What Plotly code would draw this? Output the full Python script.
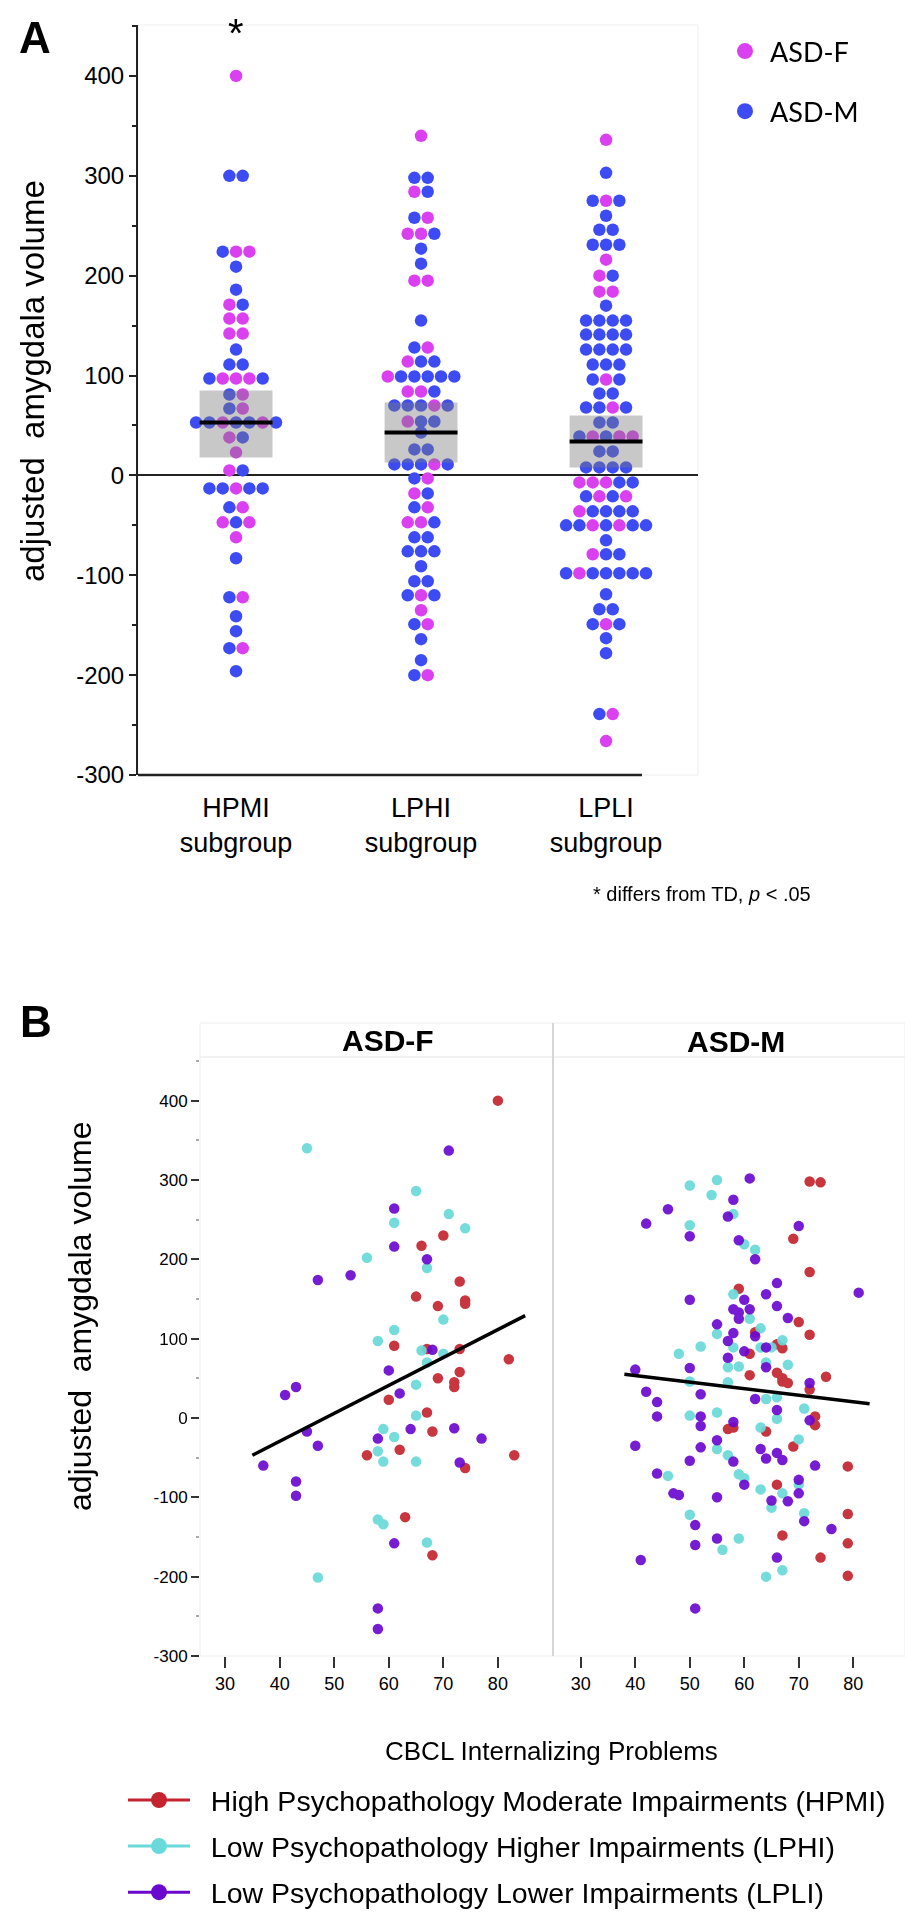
import plotly.graph_objects as go

# ---------------- Panel A data (beeswarm rows: value + sex of each dot in row) -------------
groups = ["HPMI<br>subgroup", "LPHI<br>subgroup", "LPLI<br>subgroup"]

hpmi_rows = [400, 300, 224, 209, 186, 171, 157, 142, 126, 111, 97, 81, 67, 53, 38, 23, 5,
             -13, -32, -47, -62, -83, -122, -141, -156, -173, -196]
hpmi_sex = ["F", "MM", "MFF", "M", "M", "FM", "FF", "FF", "M", "MM", "MFFFM", "MF", "MF",
            "MMFMMFM", "FM", "F", "FM", "MMFMM", "MF", "FMF", "F", "M", "MF", "M", "M", "MF", "M"]

lphi_rows = [340, 298, 284, 258, 242, 227, 212, 195, 155, 128, 114, 99, 84, 70, 54, 43, 26, 11,
             -3, -18, -32, -47, -62, -76, -91, -106, -120, -135, -149, -164, -185, -200]
lphi_sex = ["F", "MM", "FM", "MF", "FFM", "M", "M", "FF", "M", "MF", "FMM", "FMMMMM", "FFM",
            "MMMFM", "FMM", "M", "MM", "MMMFM", "MF", "FM", "MF", "FFM", "MM", "MMM", "M", "MM",
            "MFM", "F", "MF", "M", "M", "MF"]

lpli_rows = [336, 303, 275, 260, 246, 231, 216, 200, 184, 170, 155, 141, 126, 111, 96, 82, 68, 53,
             39, 24, 8, -7, -21, -36, -50, -65, -79, -98, -119, -134, -149, -163, -178, -239, -266]
lpli_sex = ["F", "M", "MFM", "M", "MM", "MMM", "F", "FM", "FF", "M", "MMMM", "MMMM", "MMMM", "MMM",
            "MFM", "MM", "MMFM", "MM", "MFMFF", "MM", "MMMM", "FFFMM", "MFMF", "FMMMM", "MMFMFMM",
            "M", "FMM", "MFMMMMM", "M", "MM", "MFM", "M", "M", "MF", "F"]

box_q1 = [18, 13, 8]
box_q3 = [85, 73, 60]
box_median = [53, 43, 34]

# ---------------- Panel B data ----------------
F_HPMI_x = [80, 70, 66, 73, 65, 74, 74, 69, 61, 67, 73, 82, 73, 69, 72, 72, 60, 67, 68, 56, 62, 74, 83, 63, 68]
F_HPMI_y = [400, 230, 217, 172, 153, 148, 144, 141, 91, 87, 87, 74, 58, 50, 45, 39, 23, 7, -17, -47, -40, -63, -47, -125, -173]
F_LPHI_x = [45, 65, 71, 61, 74, 56, 67, 70, 61, 58, 66, 70, 67, 65, 65, 59, 61, 58, 59, 65, 58, 59, 67, 47]
F_LPHI_y = [340, 286, 257, 246, 239, 202, 189, 124, 111, 97, 85, 81, 70, 42, 3, -14, -24, -42, -55, -55, -128, -134, -157, -201]
F_LPLI_x = [71, 61, 61, 67, 47, 53, 68, 60, 43, 41, 62, 45, 64, 72, 47, 58, 77, 73, 37, 43, 43, 61, 58, 58]
F_LPLI_y = [337, 264, 216, 200, 174, 180, 86, 60, 39, 29, 31, -17, -14, -13, -35, -26, -26, -56, -60, -80, -98, -158, -240, -266]

M_HPMI_x = [72, 74, 69, 72, 59, 70, 62, 72, 61, 66, 67, 61, 66, 67, 67, 68, 75, 72, 57, 58, 64, 73, 73, 69, 79, 66, 79, 67, 79, 74, 79]
M_HPMI_y = [298, 297, 226, 184, 163, 121, 108, 105, 81, 93, 88, 54, 57, 50, 46, 44, 52, 36, -14, -12, -17, 2, -9, -36, -61, -84, -121, -148, -158, -176, -199]
M_LPHI_x = [50, 55, 54, 58, 50, 60, 62, 58, 61, 63, 55, 67, 52, 58, 63, 65, 48, 57, 59, 64, 68, 50, 57, 64, 66, 71, 66, 50, 55, 63,
            70, 55, 57, 46, 59, 60, 63, 70, 67, 65, 50, 71, 59, 56, 64, 67]
M_LPHI_y = [293, 300, 281, 257, 243, 219, 212, 156, 125, 113, 106, 98, 90, 89, 89, 89, 81, 64, 65, 70, 67, 46, 45, 24, 26, 12, -1, 3, 7, -12,
            -27, -39, -47, -73, -71, -76, -90, -84, -95, -113, -122, -120, -152, -166, -200, -192]
M_LPLI_x = [61, 58, 46, 57, 42, 50, 70, 59, 62, 66, 64, 81, 50, 60, 61, 58, 59, 66, 59, 68, 55, 58, 62, 57, 60, 64, 57, 64, 50, 40,
            72, 42, 52, 44, 62, 66, 44, 52, 52, 58, 72, 40, 52, 55, 63, 50, 58, 64, 66, 67, 73, 44, 60, 70, 47, 48, 55, 65, 68, 70,
            51, 71, 76, 55, 51, 41, 66, 51]
M_LPLI_y = [302, 275, 263, 254, 245, 229, 242, 224, 200, 170, 156, 158, 149, 149, 137, 137, 133, 141, 125, 126, 118, 107, 103, 97, 84, 89, 76, 64, 63, 61,
            44, 33, 30, 20, 24, 10, 2, 2, -10, -5, -3, -35, -37, -28, -39, -54, -55, -51, -44, -53, -60, -70, -84, -78, -95, -97, -100, -104, -105, -95,
            -135, -130, -140, -152, -160, -179, -176, -240]

fit_F_x = [35, 85]
fit_F_y = [-47, 129]
fit_M_x = [38, 83]
fit_M_y = [55, 18]

legend_B = ["High Psychopathology Moderate Impairments (HPMI)",
            "Low Psychopathology Higher Impairments (LPHI)",
            "Low Psychopathology Lower Impairments (LPLI)"]

y_ticks = [-300, -200, -100, 0, 100, 200, 300, 400]
y_tick_text = ["-300", "-200", "-100", "0", "100", "200", "300", "400"]
x_ticks_B = [30, 40, 50, 60, 70, 80]

# ---------------- styling ----------------
W, H = 913, 1920
FONT = "Liberation Sans, Arial, sans-serif"
PINK = "#DA40F0"
BLUE = "#3C4CF2"
RED = "#C3242F"
CYAN = "#6AD9D9"
PURPLE = "#6A08CE"


def px(x):
    return x / W


def py(y):
    return 1 - y / H


def swarm(rows, sexes, center, step):
    xs, ys, ss = [], [], []
    for v, s in zip(rows, sexes):
        n = len(s)
        for k, c in enumerate(s):
            xs.append(center + (k - (n - 1) / 2) * step)
            ys.append(v)
            ss.append(c)
    return xs, ys, ss


fig = go.Figure()

STEP = 0.072
allx = {"F": [], "M": []}
ally = {"F": [], "M": []}
for gi, (rows, sx) in enumerate([(hpmi_rows, hpmi_sex), (lphi_rows, lphi_sex), (lpli_rows, lpli_sex)]):
    xs, ys, ss = swarm(rows, sx, gi, STEP)
    for x, y, s in zip(xs, ys, ss):
        allx[s].append(x)
        ally[s].append(y)

# legend-only entries for panel A
for name, col in [("ASD-F", PINK), ("ASD-M", BLUE)]:
    fig.add_trace(go.Scatter(x=[None], y=[None], mode="markers", name=name, legend="legend",
                             legendgroup=name, marker=dict(color=col, size=16), xaxis="x", yaxis="y"))

for s, col in [("F", PINK), ("M", BLUE)]:
    fig.add_trace(go.Scatter(x=allx[s], y=ally[s], mode="markers", showlegend=False,
                             marker=dict(color=col, size=12.5, line=dict(width=0)),
                             xaxis="x", yaxis="y", hoverinfo="skip"))

# panel B
for (fx, fy, mx, my, col) in [(F_HPMI_x, F_HPMI_y, M_HPMI_x, M_HPMI_y, RED),
                              (F_LPHI_x, F_LPHI_y, M_LPHI_x, M_LPHI_y, CYAN),
                              (F_LPLI_x, F_LPLI_y, M_LPLI_x, M_LPLI_y, PURPLE)]:
    fig.add_trace(go.Scatter(x=fx, y=fy, mode="markers", showlegend=False, opacity=0.92,
                             marker=dict(color=col, size=10.5), xaxis="x2", yaxis="y2"))
    fig.add_trace(go.Scatter(x=mx, y=my, mode="markers", showlegend=False, opacity=0.92,
                             marker=dict(color=col, size=10.5), xaxis="x3", yaxis="y3"))

fig.add_trace(go.Scatter(x=fit_F_x, y=fit_F_y, mode="lines", showlegend=False,
                         line=dict(color="black", width=3.5), xaxis="x2", yaxis="y2"))
fig.add_trace(go.Scatter(x=fit_M_x, y=fit_M_y, mode="lines", showlegend=False,
                         line=dict(color="black", width=3.5), xaxis="x3", yaxis="y3"))

for name, col in zip(legend_B, [RED, CYAN, PURPLE]):
    fig.add_trace(go.Scatter(x=[None], y=[None], mode="lines+markers", name="\u00a0\u00a0" + name,
                             legend="legend2", legendgroup=name, marker=dict(color=col, size=16),
                             line=dict(color=col, width=3), xaxis="x2", yaxis="y2"))

shapes = []
for i in range(3):
    shapes.append(dict(type="rect", xref="x", yref="y", x0=i - 0.197, x1=i + 0.197,
                       y0=box_q1[i], y1=box_q3[i], fillcolor="rgba(125,125,125,0.42)",
                       line=dict(width=0), layer="above"))
    shapes.append(dict(type="line", xref="x", yref="y", x0=i - 0.197, x1=i + 0.197,
                       y0=box_median[i], y1=box_median[i], line=dict(color="black", width=4),
                       layer="above"))
# panel A frame + bottom axis
shapes.append(dict(type="rect", xref="x domain", yref="y domain", x0=0, x1=1, y0=0, y1=1,
                   line=dict(color="#eeeeee", width=1), layer="below"))
shapes.append(dict(type="line", xref="x domain", yref="y domain", x0=0, x1=0.9, y0=0, y1=0,
                   line=dict(color="#222222", width=2.5)))
# panel B frames
shapes.append(dict(type="rect", xref="paper", yref="paper", x0=px(192), x1=px(897), y0=py(1049), y1=py(1015),
                   line=dict(color="#eeeeee", width=1)))
for xr, yr in [("x2 domain", "y2 domain"), ("x3 domain", "y3 domain")]:
    shapes.append(dict(type="rect", xref=xr, yref=yr, x0=0, x1=1, y0=0, y1=1,
                       line=dict(color="#eeeeee", width=1), layer="below"))
shapes.append(dict(type="line", xref="paper", yref="paper", x0=px(545), x1=px(545), y0=py(1648), y1=py(1015),
                   line=dict(color="#d6d6d6", width=2)))


def note(text, x, y, size, xref="paper", angle=0, xanchor="center", yanchor="middle"):
    return dict(text=text, x=x, y=y, xref=xref, yref="paper", showarrow=False, textangle=angle,
                xanchor=xanchor, yanchor=yanchor, font=dict(size=size, family=FONT, color="black"))


ann = [
    note("<b>A</b>", px(27), py(29), 44),
    note("<b>B</b>", px(28), py(1014), 44),
    note("*", 0, py(1), 40, xref="x", yanchor="top"),
    note("* differs from TD, <i>p</i> &lt; .05", px(805), py(886), 20, xanchor="right"),
    note("adjusted\u00a0 amygdala volume", px(24), py(373), 33, angle=-90),
    note("adjusted\u00a0 amygdala volume", px(72), py(1308), 32, angle=-90),
    note("<b>ASD-F</b>", px(380), py(1032), 30),
    note("<b>ASD-M</b>", px(728), py(1033), 30),
    note("CBCL Internalizing Problems", px(543), py(1743), 26),
]

fig.update_layout(
    width=W, height=H, margin=dict(l=0, r=0, t=0, b=0, autoexpand=False),
    paper_bgcolor="white", plot_bgcolor="white",
    font=dict(family=FONT, color="black"),
    shapes=shapes, annotations=ann,
    xaxis=dict(domain=[px(130), px(690)], range=[-0.53, 2.497], tickvals=[0, 1, 2], ticktext=groups,
               showline=False, ticks="", showgrid=False, zeroline=False, anchor="y",
               ticklabelstandoff=14, tickfont=dict(size=27, family=FONT)),
    yaxis=dict(domain=[py(767), py(17)], range=[-300, 451], tickvals=y_ticks, ticktext=y_tick_text,
               showline=True, linewidth=2,
               linecolor="#222222", ticks="outside", ticklen=7, tickwidth=2, tickcolor="#222222",
               minor=dict(dtick=50, ticks="outside", ticklen=4, tickwidth=2, tickcolor="#222222"),
               zeroline=True, zerolinewidth=2, zerolinecolor="#222222", showgrid=False, anchor="x",
               tickfont=dict(size=24, family=FONT)),
    xaxis2=dict(domain=[px(192), px(545)], range=[25.4, 90.1], tickvals=x_ticks_B, ticks="outside", ticklen=11,
                tickwidth=2, tickcolor="#333333", showline=False, showgrid=False, zeroline=False,
                anchor="y2", tickfont=dict(size=18, family=FONT)),
    xaxis3=dict(domain=[px(545), px(897)], range=[24.9, 89.5], tickvals=x_ticks_B, ticks="outside", ticklen=11,
                tickwidth=2, tickcolor="#333333", showline=False, showgrid=False, zeroline=False,
                anchor="y3", tickfont=dict(size=18, family=FONT)),
    yaxis2=dict(domain=[py(1648), py(1049)], range=[-300, 455], tickvals=y_ticks, ticktext=y_tick_text,
                ticks="outside", ticklen=8,
                tickwidth=2, tickcolor="#333333", showline=False, showgrid=False, zeroline=False,
                minor=dict(dtick=50, ticks="outside", ticklen=3, tickwidth=2, tickcolor="#aaaaaa"),
                anchor="x2", tickfont=dict(size=17, family=FONT)),
    yaxis3=dict(domain=[py(1648), py(1049)], range=[-300, 455], matches="y2", showticklabels=False,
                ticks="", showline=False, showgrid=False, zeroline=False, anchor="x3"),
    legend=dict(x=px(712), y=py(19), xanchor="left", yanchor="top", itemwidth=40, tracegroupgap=22,
                font=dict(size=27, family="Lato, sans-serif"), bgcolor="rgba(0,0,0,0)"),
    legend2=dict(x=px(115), y=py(1767), xanchor="left", yanchor="top", itemwidth=62, tracegroupgap=6,
                 font=dict(size=28.5, family=FONT), bgcolor="rgba(0,0,0,0)"),
)

fig.write_html("out.html")
